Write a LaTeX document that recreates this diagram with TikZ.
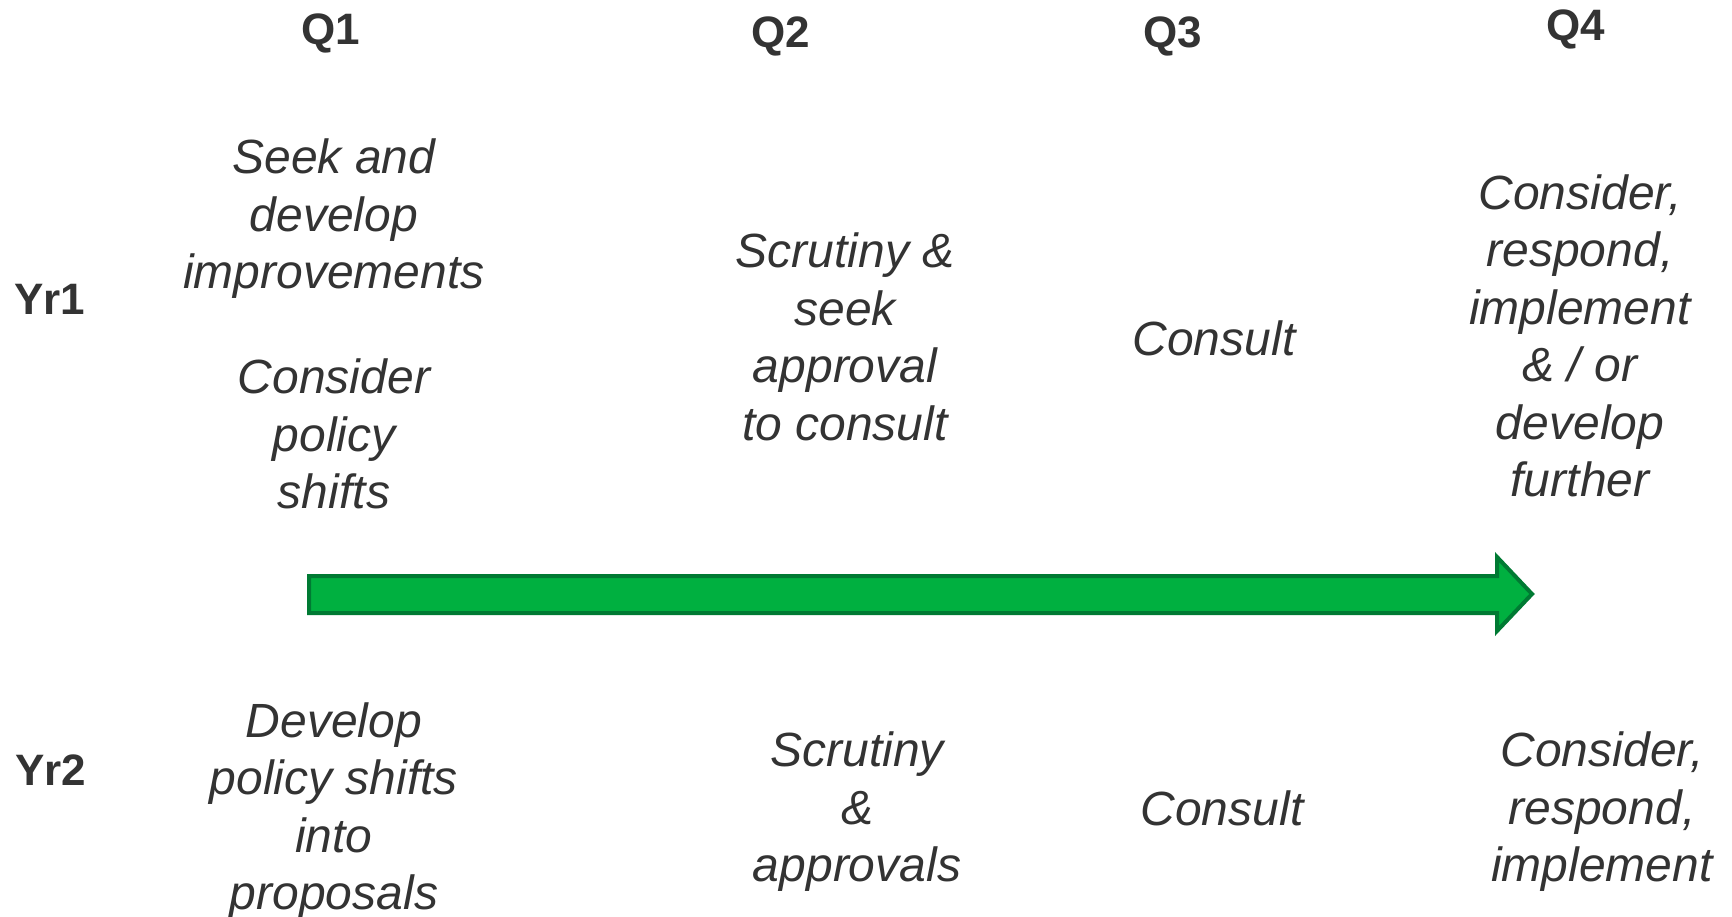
\documentclass[tikz,border=0pt]{standalone}
\usepackage{fontspec}
\setmainfont{Liberation Sans}
\definecolor{txt}{RGB}{51,51,51}
\definecolor{arrfill}{RGB}{0,176,64}
\definecolor{arrline}{RGB}{0,122,51}
\tikzset{
  head/.style={font=\fontsize{44}{52}\selectfont\bfseries, text=txt, inner sep=0pt},
  body/.style={font=\fontsize{48}{57.5}\selectfont\itshape, text=txt, align=center, inner sep=0pt},
  bigarrow/.style={fill=arrfill, draw=arrline, line width=4pt, line join=miter}
}
\begin{document}
\begin{tikzpicture}[x=1pt,y=-1pt]
\useasboundingbox (0,0) rectangle (1732,917);
% column headers
\node[head] (q1) at (331,33) {Q1};
\node[head] (q2) at (781,36) {Q2};
\node[head] (q3) at (1173,36) {Q3};
\node[head] (q4) at (1576,29) {Q4};
% row headers
\node[head] (yr1) at (50,299) {Yr1};
\node[head] (yr2) at (51,770) {Yr2};
% year 1
\node[body] (a1) at (334,219) {Seek and\\develop\\improvements};
\node[body] (a2) at (334,434) {Consider\\policy\\shifts};
\node[body] (b1) at (845,337) {Scrutiny \&\\seek\\approval\\to consult};
\node[body] (c1) at (1214,338) {Consult};
\node[body] (d1) at (1580,336) {Consider,\\respond,\\implement\\\& / or\\develop\\further};
% year 2
\node[body] (a3) at (334,811) {Develop\\policy shifts\\into\\proposals};
\node[body] (b2) at (857,812) {Scrutiny\\\&\\approvals};
\node[body] (c2) at (1222,808) {Consult};
\node[body] (d2) at (1602,812) {Consider,\\respond,\\implement};
% timeline arrow
\draw[bigarrow] (309,576) -- (1497,576) -- (1497,557) -- (1532,594) -- (1497,631) -- (1497,613) -- (309,613) -- cycle;
\end{tikzpicture}
\end{document}
